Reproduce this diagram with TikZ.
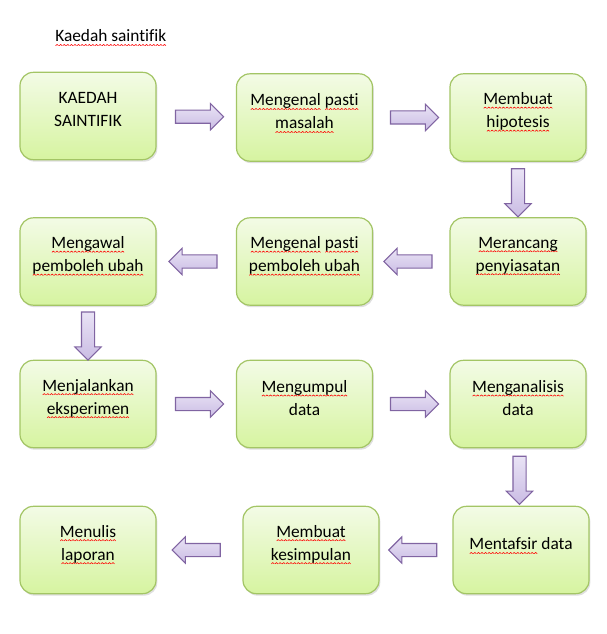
\documentclass[tikz,border=0pt]{standalone}
\usepackage{fontspec}
\setmainfont{Carlito}[Ligatures=NoCommon]
\usetikzlibrary{shapes.arrows, shadows, calc}

\definecolor{kotakatas}{HTML}{F3FBE6}
\definecolor{kotakbawah}{HTML}{D6F4A0}
\definecolor{kotaktepi}{HTML}{A3C565}
\definecolor{panahatas}{HTML}{E9E3F5}
\definecolor{panahbawah}{HTML}{CABCE4}
\definecolor{panahtepi}{HTML}{8064A2}

% red wavy line under words
\newsavebox\gelombang
\newsavebox\kata
\AtBeginDocument{\sbox\gelombang{\begin{pgfpicture}
  \pgfpathmoveto{\pgfpointorigin}
  \pgfpathlineto{\pgfpoint{1.1pt}{0.9pt}}
  \pgfpathlineto{\pgfpoint{2.2pt}{0pt}}
  \pgfsetstrokecolor{red}\pgfsetlinewidth{0.45pt}
  \pgfusepath{stroke}
  \end{pgfpicture}}}
\newcommand\ejaan[1]{\leavevmode\sbox\kata{#1}%
  \rlap{\raisebox{-3pt}[0pt][0pt]{\hbox to \wd\kata{\xleaders\copy\gelombang\hfill}}}\usebox\kata}

\begin{document}
\begin{tikzpicture}[x=0.75pt, y=-0.75pt,
  kotak/.style={draw=kotaktepi, line width=0.9pt, rounded corners=10pt,
    top color=kotakatas, bottom color=kotakbawah,
    minimum width=102pt, minimum height=65.5pt,
    drop shadow={opacity=0.25, shadow xshift=1pt, shadow yshift=-1.5pt}},
  tulisan/.style={align=center, font=\fontsize{13}{17.25}\selectfont, inner sep=0pt},
  panah/.style={single arrow, draw=panahtepi, line width=0.8pt,
    top color=panahatas, bottom color=panahbawah,
    minimum height=36pt, inner sep=4.5pt,
    single arrow head extend=4.9pt}]
\useasboundingbox (0,0) rectangle (606,634);

% Title
\node[anchor=west, inner sep=0pt, font=\fontsize{13}{16}\selectfont] (tajuk) at (55,36) {\ejaan{Kaedah saintifik}};

% Boxes
\foreach \nama/\x/\y/\isi in {
  b1/88/116/{KAEDAH\\SAINTIFIK},
  b2/304.5/117.5/{\ejaan{Mengenal} \ejaan{pasti}\\\ejaan{masalah}},
  b3/518/117.5/{\ejaan{Membuat}\\\ejaan{hipotesis}},
  b4/518/261.5/{\ejaan{Merancang}\\\ejaan{penyiasatan}},
  b5/304.5/261.5/{\ejaan{Mengenal} \ejaan{pasti}\\\ejaan{pemboleh ubah}},
  b6/88/261.5/{\ejaan{Mengawal}\\\ejaan{pemboleh ubah}},
  b7/88/404/{\ejaan{Menjalankan}\\\ejaan{eksperimen}},
  b8/304.5/404/{\ejaan{Mengumpul}\\data},
  b9/518/404/{\ejaan{Menganalisis}\\data},
  b10/521/550/{\ejaan{Mentafsir} data},
  b11/311/550/{\ejaan{Membuat}\\\ejaan{kesimpulan}},
  b12/88/550/{\ejaan{Menulis}\\\ejaan{laporan}}} {
    \node[kotak] (\nama) at (\x,\y) {};
    \node[tulisan] (t\nama) at ([yshift=4.5pt]\nama.center) {\isi};
}

% Block arrows
\foreach \dari/\ke/\arah in {b1/b2/0, b2/b3/0, b3/b4/270, b4/b5/180, b5/b6/180,
  b6/b7/270, b7/b8/0, b8/b9/0, b9/b10/270, b10/b11/180, b11/b12/180} {
    \node[panah, shape border rotate=\arah] (p\dari) at ($(\dari)!0.5!(\ke)$) {};
}
\end{tikzpicture}
\end{document}
